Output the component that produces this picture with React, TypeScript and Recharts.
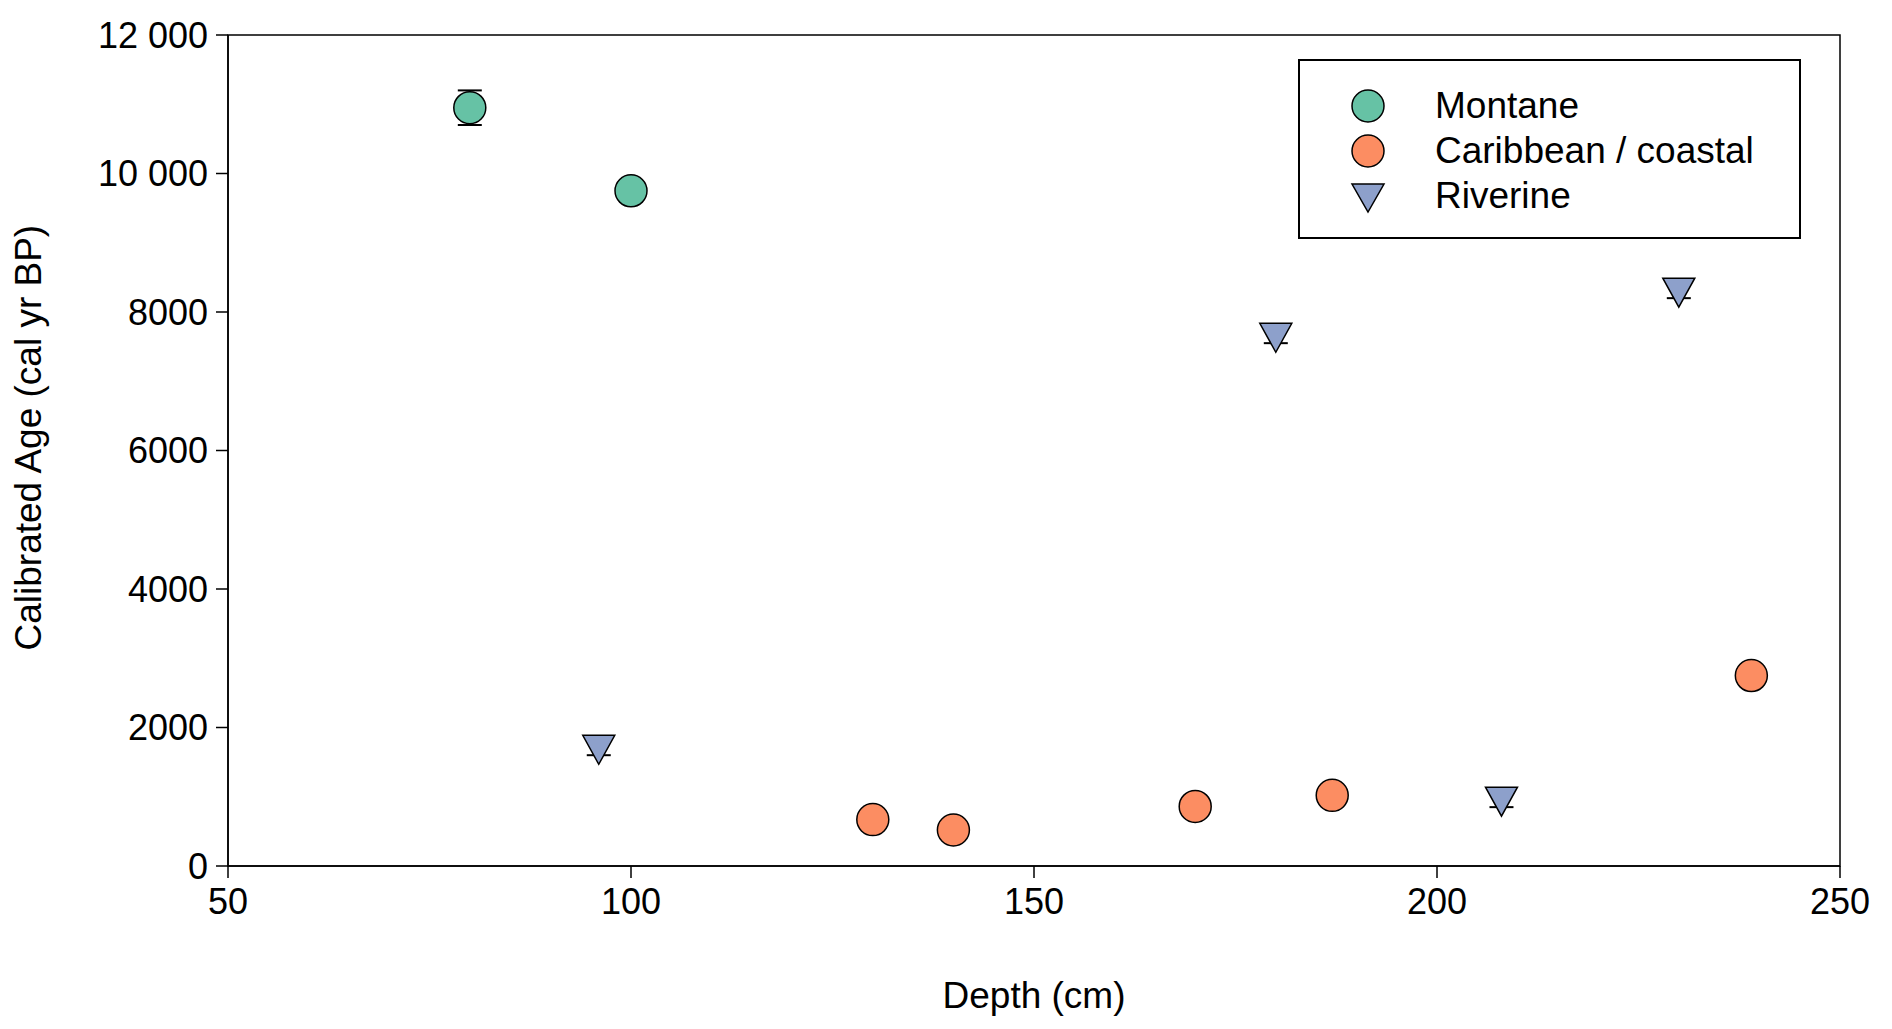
import { ScatterChart, Scatter, XAxis, YAxis, ErrorBar, ReferenceArea } from "recharts";

const montane = [
  { depth: 80, age: 10950, err: 250 },
  { depth: 100, age: 9750, err: 150 },
];
const caribbean = [
  { depth: 130, age: 670, err: 60 },
  { depth: 140, age: 520, err: 60 },
  { depth: 170, age: 860, err: 60 },
  { depth: 187, age: 1020, err: 60 },
  { depth: 239, age: 2750, err: 60 },
];
const riverine = [
  { depth: 96, age: 1700, err: 100 },
  { depth: 180, age: 7650, err: 100 },
  { depth: 208, age: 950, err: 100 },
  { depth: 230, age: 8300, err: 100 },
];
const xTicks = [50, 100, 150, 200, 250];
const yTicks = [0, 2000, 4000, 6000, 8000, 10000, 12000];

const COLORS = { montane: "#66c2a5", caribbean: "#fc8d62", riverine: "#8da0cb" };
const FONT = "'Liberation Sans', Arial, sans-serif";

const fmtY = (v: number) => (v >= 10000 ? `${Math.floor(v / 1000)} ${String(v % 1000).padStart(3, "0")}` : `${v}`);

const Circle = (color: string) => (p: any) => (
  <circle cx={p.cx} cy={p.cy} r={16} fill={color} stroke="#000" strokeWidth={1.5} />
);
const TriDown = (color: string) => (p: any) => (
  <path
    d={`M${p.cx - 16},${p.cy - 13} L${p.cx + 16},${p.cy - 13} L${p.cx},${p.cy + 16} Z`}
    fill={color}
    stroke="#000"
    strokeWidth={1.5}
  />
);

const legendItems = [
  { name: "Montane", color: COLORS.montane, tri: false },
  { name: "Caribbean / coastal", color: COLORS.caribbean, tri: false },
  { name: "Riverine", color: COLORS.riverine, tri: true },
];

const LegendBox = () => (
  <div style={{ position: "absolute", left: 1290, top: 51, width: 503, height: 180, border: "2px solid #000", boxSizing: "border-box", background: "#fff", fontFamily: FONT, fontSize: 37 }}>
    {legendItems.map((it, i) => (
      <div key={i} style={{ position: "absolute", left: 0, top: 22 + i * 45, display: "flex", alignItems: "center", height: 45 }}>
        <svg width={135} height={40}>
          {it.tri ? (
            <path d="M52,8 L84,8 L68,36 Z" fill={it.color} stroke="#000" strokeWidth={1.5} />
          ) : (
            <circle cx={68} cy={20} r={16} fill={it.color} stroke="#000" strokeWidth={1.5} />
          )}
        </svg>
        <span style={{ whiteSpace: "nowrap" }}>{it.name}</span>
      </div>
    ))}
  </div>
);

const tickStyle = { fontSize: 36, fill: "#000", fontFamily: FONT };

export default function App() {
  return (
    <div style={{ position: "relative", width: 1876, height: 1021 }}>
      <ScatterChart width={1876} height={1021} margin={{ top: 27, right: 44, bottom: 83, left: 120 }}>
        <XAxis
          type="number"
          dataKey="depth"
          domain={[50, 250]}
          ticks={xTicks}
          tick={tickStyle}
          tickLine={{ stroke: "#000", strokeWidth: 1.5 }}
          axisLine={{ stroke: "#000", strokeWidth: 1.5 }}
          tickSize={12}
          tickMargin={10}
          height={80}
          label={{ value: "Depth (cm)", position: "insideBottom", offset: -62, style: { fontSize: 37, fill: "#000", fontFamily: FONT } }}
        />
        <YAxis
          type="number"
          dataKey="age"
          domain={[0, 12000]}
          ticks={yTicks}
          tickFormatter={fmtY}
          tick={tickStyle}
          tickLine={{ stroke: "#000", strokeWidth: 1.5 }}
          axisLine={{ stroke: "#000", strokeWidth: 1.5 }}
          tickSize={12}
          tickMargin={8}
          width={100}
          label={{ value: "Calibrated Age (cal yr BP)", angle: -90, position: "insideLeft", offset: -100, dy: 200, style: { fontSize: 37, fill: "#000", fontFamily: FONT } }}
        />
        <ReferenceArea x1={50} x2={250} y1={0} y2={12000} fill="none" stroke="#000" strokeWidth={1.5} />
        <Scatter name="Montane" data={montane} shape={Circle(COLORS.montane)} isAnimationActive={false}>
          <ErrorBar dataKey="err" direction="y" width={12} stroke="#000" strokeWidth={2} />
        </Scatter>
        <Scatter name="Caribbean / coastal" data={caribbean} shape={Circle(COLORS.caribbean)} isAnimationActive={false}>
          <ErrorBar dataKey="err" direction="y" width={12} stroke="#000" strokeWidth={2} />
        </Scatter>
        <Scatter name="Riverine" data={riverine} shape={TriDown(COLORS.riverine)} isAnimationActive={false}>
          <ErrorBar dataKey="err" direction="y" width={12} stroke="#000" strokeWidth={2} />
        </Scatter>
      </ScatterChart>
      <LegendBox />
    </div>
  );
}
